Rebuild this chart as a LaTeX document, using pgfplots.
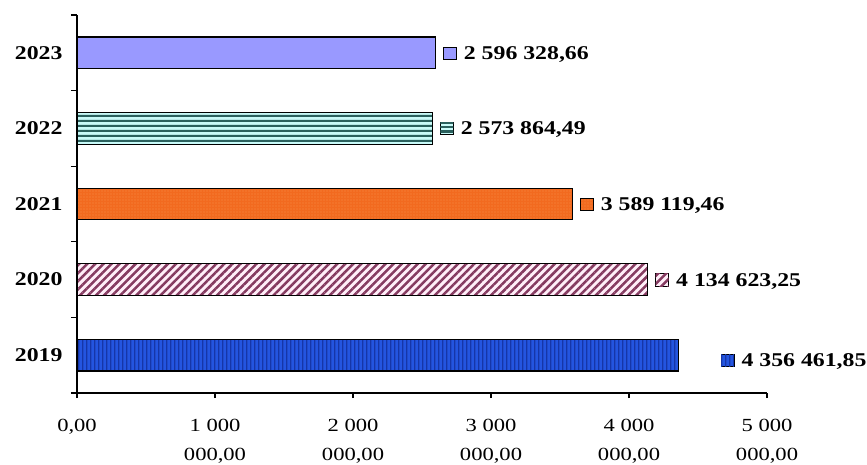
\documentclass[border=0pt]{standalone}
\usepackage{fontspec}
\setmainfont{Liberation Serif}[FakeStretch=1.22]
\usepackage{pgfplots}
\pgfplotsset{compat=1.18}
\usetikzlibrary{patterns,patterns.meta}

\definecolor{c23}{HTML}{9999FF}
\definecolor{c22bg}{HTML}{C8FAF8}
\definecolor{c22ln}{HTML}{2A605D}
\definecolor{c21}{HTML}{F26A1F}
\definecolor{c21dot}{HTML}{F7904A}
\definecolor{c20bg}{HTML}{FFEEF8}
\definecolor{c20ln}{HTML}{853A60}
\definecolor{c19bg}{HTML}{2455E0}
\definecolor{c19ln}{HTML}{1636A8}

% wide tiles, so the stripes have no seams
\pgfdeclarepatternformonly{hstripes}{\pgfqpoint{0pt}{0pt}}{\pgfqpoint{900pt}{4.6pt}}{\pgfqpoint{900pt}{4.6pt}}
  {\pgfpathrectangle{\pgfqpoint{0pt}{0pt}}{\pgfqpoint{900pt}{2.3pt}}\pgfusepath{fill}}
\pgfdeclarepatternformonly{vstripes}{\pgfqpoint{0pt}{0pt}}{\pgfqpoint{3.7pt}{500pt}}{\pgfqpoint{3.7pt}{500pt}}
  {\pgfpathrectangle{\pgfqpoint{0pt}{0pt}}{\pgfqpoint{1.4pt}{500pt}}\pgfusepath{fill}}

\tikzset{
  s2023/.style={draw=black, fill=c23},
  s2022/.style={draw=black, fill=c22bg, postaction={pattern=hstripes, pattern color=c22ln}},
  s2021/.style={draw=black, fill=c21, postaction={pattern={Dots[radius=0.6pt,distance=3pt]}, pattern color=c21dot}},
  s2020/.style={draw=black, fill=c20bg, postaction={pattern={Lines[angle=45,distance=5.7pt,line width=2.5pt]}, pattern color=c20ln}},
  s2019/.style={draw=black, fill=c19bg, postaction={pattern=vstripes, pattern color=c19ln}},
}
\newsavebox\kA \newsavebox\kB \newsavebox\kC \newsavebox\kD \newsavebox\kE

\begin{document}%
\sbox\kA{\tikz[baseline=0pt]\draw[s2019, line width=1pt] (0,0) rectangle (13pt,12.3pt);}%
\sbox\kB{\tikz[baseline=0pt]\draw[s2020, line width=1pt] (0,0) rectangle (13pt,12.3pt);}%
\sbox\kC{\tikz[baseline=0pt]\draw[s2021, line width=1pt] (0,0) rectangle (13pt,12.3pt);}%
\sbox\kD{\tikz[baseline=0pt]\draw[s2022, line width=1pt] (0,0) rectangle (13pt,12.3pt);}%
\sbox\kE{\tikz[baseline=0pt]\draw[s2023, line width=1pt] (0,0) rectangle (13pt,12.3pt);}%
\begin{tikzpicture}
\useasboundingbox (0,0) rectangle (867pt,464pt);
\begin{axis}[
  at={(77pt,71pt)}, anchor=south west,
  scale only axis, width=690pt, height=378pt,
  xbar, bar width=31.6pt, bar shift=0pt,
  xmin=0, xmax=5000000, ymin=-0.5, ymax=4.5,
  axis x line=bottom, axis y line=left,
  axis line style={-, line width=1.2pt},
  every tick/.style={black, line width=1.2pt},
  tick align=outside, major tick length=5pt, minor tick length=6pt,
  xtick={0,1000000,2000000,3000000,4000000,5000000},
  xticklabels={{0,00},{1 000\\000,00},{2 000\\000,00},{3 000\\000,00},{4 000\\000,00},{5 000\\000,00}},
  xticklabel style={align=center, font=\fontsize{18.5}{29}\selectfont, yshift=-18pt},
  ytick={0,1,2,3,4},
  yticklabels={2019,2020,2021,2022,2023},
  y tick style={draw=none},
  minor ytick={-0.5,0.5,1.5,2.5,3.5,4.5},
  minor y tick style={draw=black, line width=1.2pt},
  yticklabel style={font=\bfseries\fontsize{19.5}{22}\selectfont, xshift=-6pt},
  scaled x ticks=false,
  point meta=explicit symbolic,
  every node near coord/.append style={font=\bfseries\fontsize{19.5}{22}\selectfont, black,
      anchor=west, inner sep=0pt, xshift=7pt, yshift=-1.6pt},
  clip=false,
]
\addplot[s2019, line width=1.2pt, nodes near coords={\usebox\kA\hspace{7pt}\pgfplotspointmeta},
  every node near coord/.append style={xshift=34.8pt, yshift=-4.8pt}]
  coordinates {(4356461.85,0) [4 356 461,85]};
\addplot[s2020, line width=1.2pt, nodes near coords={\usebox\kB\hspace{7pt}\pgfplotspointmeta}]
  coordinates {(4134623.25,1) [4 134 623,25]};
\addplot[s2021, line width=1.2pt, nodes near coords={\usebox\kC\hspace{7pt}\pgfplotspointmeta}]
  coordinates {(3589119.46,2) [3 589 119,46]};
\addplot[s2022, line width=1.2pt, nodes near coords={\usebox\kD\hspace{7pt}\pgfplotspointmeta}]
  coordinates {(2573864.49,3) [2 573 864,49]};
\addplot[s2023, line width=1.2pt, nodes near coords={\usebox\kE\hspace{7pt}\pgfplotspointmeta}]
  coordinates {(2596328.66,4) [2 596 328,66]};
\end{axis}
\end{tikzpicture}%
\end{document}
